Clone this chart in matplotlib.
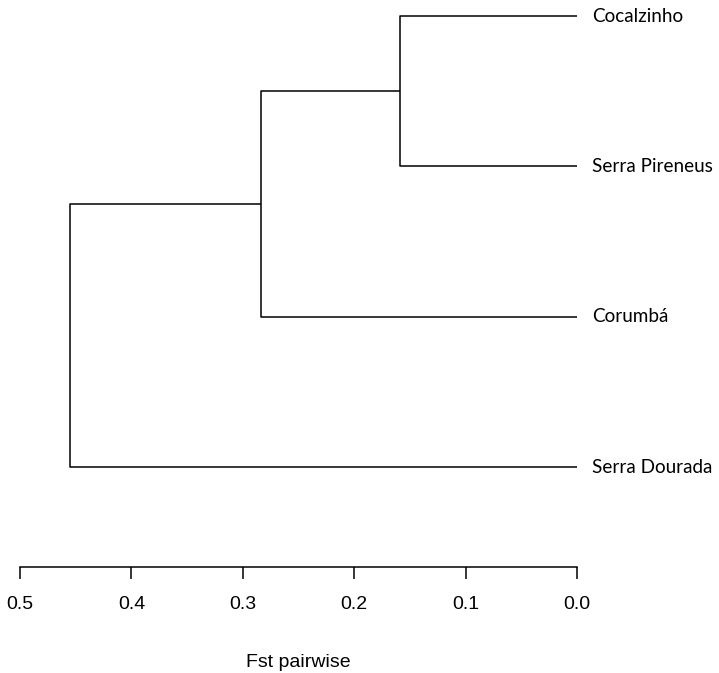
import matplotlib
matplotlib.use('Agg')
import matplotlib.pyplot as plt
from matplotlib import font_manager

# leaves, bottom to top
leaves = ['Serra Dourada', 'Corumbá', 'Serra Pireneus', 'Cocalzinho']
# merge heights (Fst)
h_cocal_pir = 0.159
h_corumba = 0.284
h_root = 0.455
ticks = [0.5, 0.4, 0.3, 0.2, 0.1, 0.0]

names = {f.name for f in font_manager.fontManager.ttflist}
tick_font = 'Liberation Sans Narrow' if 'Liberation Sans Narrow' in names else 'Liberation Sans'

fig = plt.figure(figsize=(7.19, 6.73), dpi=100)
ax = fig.add_axes([20 / 719, (673 - 567) / 673, 557 / 719, 566 / 673])

y = {name: i for i, name in enumerate(leaves)}
lw = 1.1
kw = dict(color='black', lw=lw, solid_capstyle='butt')

# cluster Cocalzinho + Serra Pireneus
y1 = (y['Cocalzinho'] + y['Serra Pireneus']) / 2
ax.plot([0, h_cocal_pir, h_cocal_pir, 0],
        [y['Cocalzinho'], y['Cocalzinho'], y['Serra Pireneus'], y['Serra Pireneus']], **kw)
# + Corumbá
y2 = (y1 + y['Corumbá']) / 2
ax.plot([h_cocal_pir, h_corumba, h_corumba, 0],
        [y1, y1, y['Corumbá'], y['Corumbá']], **kw)
# root + Serra Dourada
ax.plot([h_corumba, h_root, h_root, 0],
        [y2, y2, y['Serra Dourada'], y['Serra Dourada']], **kw)

for name in leaves:
    ax.text(-0.0135, y[name], name, va='center', ha='left', fontsize=13.6,
            family='Lato')

ax.set_xlim(0.5, 0.0)
ax.set_ylim(-0.665, 3.1)
for s in ['top', 'right', 'left']:
    ax.spines[s].set_visible(False)
ax.spines['bottom'].set_linewidth(lw)
ax.set_yticks([])
ax.set_xticks(ticks)
ax.set_xticklabels([f'{t:.1f}' for t in ticks], fontsize=14, family=tick_font)
ax.tick_params(axis='x', length=8.6, width=lw, pad=12)
ax.set_xlabel('Fst pairwise', fontsize=14, family=tick_font, labelpad=30)

fig.savefig('out.png', dpi=100)
